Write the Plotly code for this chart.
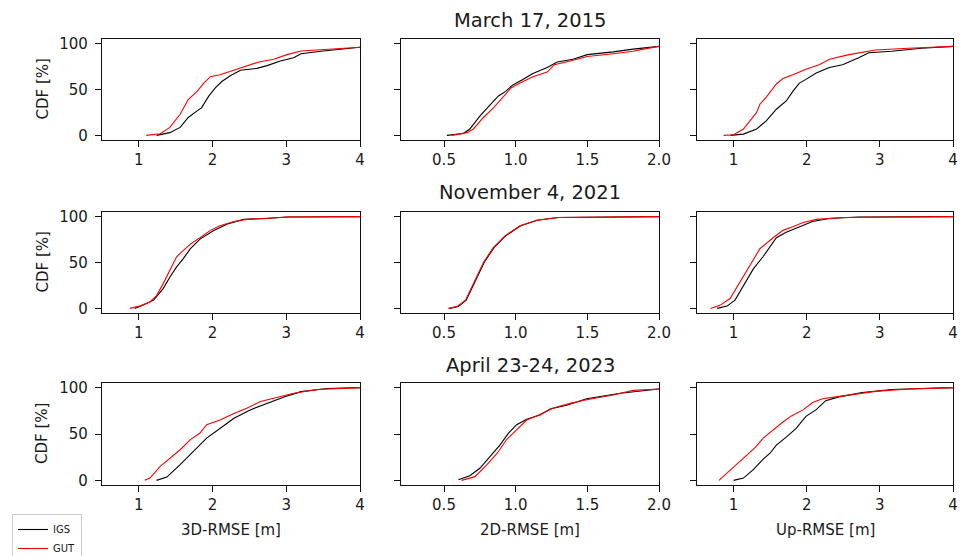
import plotly.graph_objects as go

W, H = 960, 556

# ---------------- data ----------------
events = ["March 17, 2015", "November 4, 2021", "April 23-24, 2023"]
metrics = ["3D-RMSE [m]", "2D-RMSE [m]", "Up-RMSE [m]"]
series_names = ["IGS", "GUT"]
series_colors = ["black", "red"]

# Row 1: March 17, 2015
r1_3d_igs_x = [1.24, 1.42, 1.56, 1.67, 1.79, 1.85, 1.95, 2.04, 2.13, 2.24, 2.38, 2.60, 2.74, 2.92, 3.10, 3.20, 3.47, 3.74, 4.00]
r1_3d_igs_y = [0, 3, 8.7, 19.5, 26.7, 30, 43, 52, 59, 65, 71, 73, 76, 81, 84.5, 89, 91.7, 93.5, 96]
r1_3d_gut_x = [1.10, 1.29, 1.42, 1.56, 1.67, 1.79, 1.88, 1.97, 2.10, 2.29, 2.47, 2.63, 2.83, 3.01, 3.20, 3.47, 3.65, 4.00]
r1_3d_gut_y = [0, 1.8, 8.7, 23, 39, 48, 57, 64, 66, 71, 75.5, 80, 83, 88, 92, 93.5, 94, 96]

r1_2d_igs_x = [0.52, 0.635, 0.68, 0.75, 0.82, 0.88, 0.93, 0.98, 1.05, 1.12, 1.22, 1.29, 1.40, 1.50, 1.68, 1.82, 2.00]
r1_2d_igs_y = [0, 2, 7, 21, 33, 43, 48, 55, 61, 67.5, 74, 80, 83, 88, 91, 94, 97]
r1_2d_gut_x = [0.553, 0.66, 0.705, 0.775, 0.845, 0.91, 0.97, 1.03, 1.12, 1.22, 1.27, 1.38, 1.50, 1.68, 1.82, 1.89, 2.00]
r1_2d_gut_y = [0, 3, 7, 19.5, 30, 41, 52, 57, 64, 69, 77, 81, 86, 89, 91.7, 94, 97]

r1_up_igs_x = [0.955, 1.135, 1.315, 1.45, 1.585, 1.72, 1.81, 1.90, 1.99, 2.13, 2.31, 2.49, 2.71, 2.85, 3.16, 3.57, 4.00]
r1_up_igs_y = [0, 1.4, 7, 16, 28.5, 37.5, 48, 57, 61, 68, 74, 77, 84.5, 90, 91.7, 95, 97]
r1_up_gut_x = [0.865, 1.0, 1.135, 1.225, 1.315, 1.36, 1.45, 1.585, 1.675, 1.81, 1.99, 2.17, 2.31, 2.58, 2.94, 3.39, 4.00]
r1_up_gut_y = [0, 0.7, 7, 16, 25, 34, 42, 56, 62, 66, 72, 77, 83, 88, 93, 95, 97]

# Row 2: November 4, 2021
r2_3d_igs_x = [0.945, 1.06, 1.20, 1.33, 1.42, 1.51, 1.60, 1.70, 1.83, 2.01, 2.20, 2.42, 2.74, 3.01, 4.00]
r2_3d_igs_y = [0, 3.6, 9, 21.6, 34, 45, 54, 65, 75.5, 84.5, 92, 97, 98, 99.6, 100]
r2_3d_gut_x = [0.877, 1.01, 1.15, 1.24, 1.33, 1.42, 1.51, 1.60, 1.70, 1.83, 1.97, 2.10, 2.29, 2.47, 3.01, 4.00]
r2_3d_gut_y = [0, 2.5, 7, 14, 27, 41, 56, 63, 70, 77, 85, 90, 94.6, 97, 99.6, 100]

r2_2d_igs_x = [0.54, 0.60, 0.655, 0.71, 0.78, 0.85, 0.93, 1.035, 1.15, 1.30, 2.00]
r2_2d_igs_y = [0, 2, 9, 27, 50, 66.5, 79, 90, 96, 99, 100]
r2_2d_gut_x = [0.53, 0.59, 0.65, 0.705, 0.775, 0.845, 0.925, 1.03, 1.147, 1.29, 2.00]
r2_2d_gut_y = [0, 2, 9, 27, 50, 66.5, 79, 90, 96, 99, 100]

r2_up_igs_x = [0.775, 0.91, 1.02, 1.135, 1.27, 1.405, 1.585, 1.72, 1.90, 2.08, 2.31, 2.71, 4.00]
r2_up_igs_y = [0, 2.5, 9, 25, 43, 56.5, 77, 83, 89, 94.6, 98, 99.6, 100]
r2_up_gut_x = [0.685, 0.82, 0.955, 1.09, 1.20, 1.36, 1.54, 1.675, 1.81, 1.95, 2.13, 2.49, 4.00]
r2_up_gut_y = [0, 3.6, 11, 29, 44, 65, 77, 85, 89, 93.5, 97, 99, 100]

# Row 3: April 23-24, 2023
r3_3d_igs_x = [1.24, 1.38, 1.56, 1.74, 1.92, 2.10, 2.29, 2.51, 2.74, 2.97, 3.20, 3.56, 4.00]
r3_3d_igs_y = [0, 3.6, 17, 31, 45.5, 56, 67, 76, 83, 90, 95.7, 99, 100]
r3_3d_gut_x = [1.08, 1.15, 1.29, 1.42, 1.56, 1.70, 1.83, 1.92, 2.10, 2.29, 2.47, 2.65, 2.88, 3.10, 3.42, 4.00]
r3_3d_gut_y = [0, 2.5, 15, 24, 33, 44, 51, 60, 65, 72, 78, 85, 90, 94, 98, 100]

r3_2d_igs_x = [0.60, 0.68, 0.75, 0.82, 0.89, 0.95, 1.007, 1.077, 1.17, 1.24, 1.356, 1.495, 1.73, 2.00]
r3_2d_igs_y = [0.7, 5, 13, 26, 38, 51, 60, 66, 70.6, 77, 81, 88, 94, 98.6]
r3_2d_gut_x = [0.623, 0.716, 0.80, 0.87, 0.937, 1.007, 1.077, 1.17, 1.263, 1.38, 1.495, 1.68, 1.82, 2.00]
r3_2d_gut_y = [0, 4, 17, 29, 44, 54, 65, 71, 78, 83, 87, 92, 97, 98.6]

r3_up_igs_x = [1.0, 1.135, 1.27, 1.405, 1.495, 1.585, 1.72, 1.855, 1.99, 2.126, 2.26, 2.44, 2.757, 3.16, 4.00]
r3_up_igs_y = [0, 2.5, 11.5, 23, 29, 38, 46.6, 56, 69, 76, 86, 90, 94.6, 98, 100]
r3_up_gut_x = [0.80, 0.91, 1.02, 1.18, 1.29, 1.405, 1.54, 1.675, 1.79, 1.95, 2.08, 2.215, 2.40, 2.67, 2.94, 3.39, 4.00]
r3_up_gut_y = [0, 8, 16, 27.6, 35, 45.5, 54.5, 63, 69.5, 76, 84, 88, 90, 93, 96, 98.6, 100]

panels = [
    [(r1_3d_igs_x, r1_3d_igs_y, r1_3d_gut_x, r1_3d_gut_y),
     (r1_2d_igs_x, r1_2d_igs_y, r1_2d_gut_x, r1_2d_gut_y),
     (r1_up_igs_x, r1_up_igs_y, r1_up_gut_x, r1_up_gut_y)],
    [(r2_3d_igs_x, r2_3d_igs_y, r2_3d_gut_x, r2_3d_gut_y),
     (r2_2d_igs_x, r2_2d_igs_y, r2_2d_gut_x, r2_2d_gut_y),
     (r2_up_igs_x, r2_up_igs_y, r2_up_gut_x, r2_up_gut_y)],
    [(r3_3d_igs_x, r3_3d_igs_y, r3_3d_gut_x, r3_3d_gut_y),
     (r3_2d_igs_x, r3_2d_igs_y, r3_2d_gut_x, r3_2d_gut_y),
     (r3_up_igs_x, r3_up_igs_y, r3_up_gut_x, r3_up_gut_y)],
]

x_ranges = [[0.5, 4.0], [0.2, 2.0], [0.5, 4.0]]
x_ticks = [[1, 2, 3, 4], [0.5, 1.0, 1.5, 2.0], [1, 2, 3, 4]]
y_ticks = [0, 50, 100]
y_range = [-5, 105]

# ---------------- layout geometry (pixels) ----------------
col_px = [(102, 360), (401, 659), (697, 953)]
row_px = [(39, 140), (212, 313), (383, 485)]   # top, bottom
title_y_px = [20, 193, 365]

FONT = "DejaVu Sans"
TXT = "#1a1a1a"

fig = go.Figure()
layout = dict(
    template="none",
    width=W, height=H,
    margin=dict(l=0, r=0, t=0, b=0, autoexpand=False),
    paper_bgcolor="white", plot_bgcolor="white",
    font=dict(family=FONT, size=15, color=TXT),
    showlegend=True,
)

annotations = []
idx = 0
for r in range(3):
    for c in range(3):
        idx += 1
        xa = "xaxis" if idx == 1 else f"xaxis{idx}"
        ya = "yaxis" if idx == 1 else f"yaxis{idx}"
        xref = "x" if idx == 1 else f"x{idx}"
        yref = "y" if idx == 1 else f"y{idx}"
        igs_x, igs_y, gut_x, gut_y = panels[r][c]
        for name, color, xs, ys in ((series_names[0], series_colors[0], igs_x, igs_y),
                                    (series_names[1], series_colors[1], gut_x, gut_y)):
            fig.add_trace(go.Scatter(
                x=xs, y=ys, mode="lines", name=name,
                line=dict(color=color, width=1.1),
                xaxis=xref, yaxis=yref,
                showlegend=(idx == 1), legendgroup=name,
            ))
        x0, x1 = col_px[c]
        top, bot = row_px[r]
        layout[xa] = dict(
            domain=[x0 / W, x1 / W], anchor=yref, range=x_ranges[c],
            tickmode="array", tickvals=x_ticks[c],
            tickformat=".1f" if c == 1 else "d",
            showline=True, mirror=True, linecolor="#111", linewidth=1.3,
            ticks="outside", ticklen=6, tickwidth=1.2, tickcolor="#111",
            showgrid=False, zeroline=False, automargin=False,
            ticklabeloverflow="allow",
            tickfont=dict(family=FONT, size=15, color=TXT),
        )
        layout[ya] = dict(
            domain=[(H - bot) / H, (H - top) / H], anchor=xref, range=y_range,
            tickmode="array", tickvals=y_ticks, showticklabels=(c == 0),
            showline=True, mirror=True, linecolor="#111", linewidth=1.3,
            ticks="outside", ticklen=6, tickwidth=1.2, tickcolor="#111",
            showgrid=False, zeroline=False, automargin=False,
            tickfont=dict(family=FONT, size=15, color=TXT),
            ticklabelstandoff=4,
        )
        if c == 0:
            annotations.append(dict(
                text="CDF [%]", xref="paper", yref="paper",
                x=42 / W, y=(H - (top + bot) / 2) / H,
                xanchor="center", yanchor="middle", textangle=-90, showarrow=False,
                font=dict(family=FONT, size=15, color=TXT),
            ))
        if r == 2:
            annotations.append(dict(
                text=metrics[c], xref="paper", yref="paper",
                x=(x0 + x1) / 2 / W, y=(H - 530) / H,
                xanchor="center", yanchor="middle", showarrow=False,
                font=dict(family=FONT, size=15, color=TXT),
            ))

for r in range(3):
    annotations.append(dict(
        text=events[r], xref="paper", yref="paper",
        x=(col_px[1][0] + col_px[1][1]) / 2 / W, y=(H - title_y_px[r]) / H,
        xanchor="center", yanchor="middle", showarrow=False,
        font=dict(family=FONT, size=19.5, color=TXT),
    ))

layout["annotations"] = annotations
layout["legend"] = dict(
    x=12 / W, y=(H - 514) / H, xanchor="left", yanchor="top",
    bgcolor="white", bordercolor="#cccccc", borderwidth=1,
    font=dict(family=FONT, size=10, color=TXT),
    tracegroupgap=0, itemwidth=30,
)
fig.update_layout(**layout)
fig.write_html("out.html",
               config={"displayModeBar": False},
               post_script="document.body.style.margin='0';document.body.style.padding='0';")
